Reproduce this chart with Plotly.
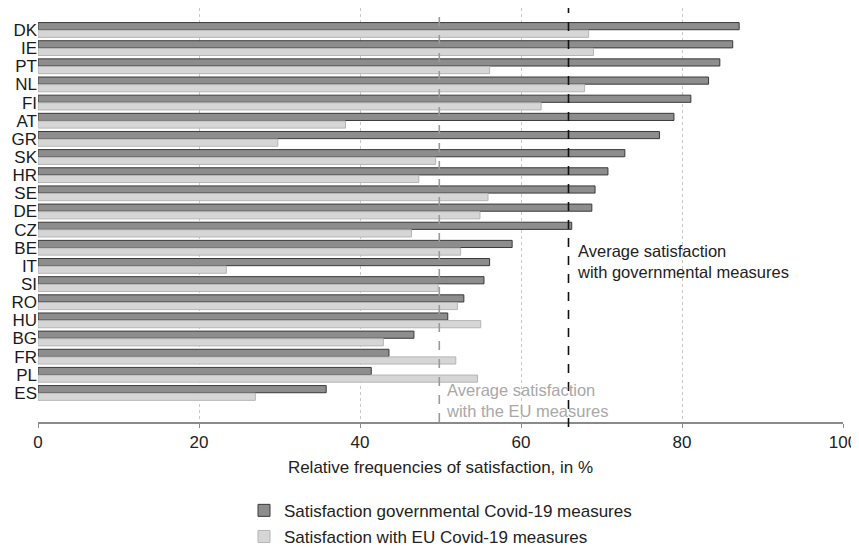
import plotly.graph_objects as go

countries = ["DK", "IE", "PT", "NL", "FI", "AT", "GR", "SK", "HR", "SE", "DE",
             "CZ", "BE", "IT", "SI", "RO", "HU", "BG", "FR", "PL", "ES"]
gov = [87.1, 86.3, 84.7, 83.3, 81.1, 79.0, 77.2, 72.9, 70.8, 69.2, 68.8,
       66.3, 58.9, 56.1, 55.4, 52.9, 50.9, 46.7, 43.6, 41.4, 35.8]
eu = [68.4, 69.0, 56.1, 67.9, 62.5, 38.2, 29.8, 49.4, 47.3, 55.9, 54.9,
      46.4, 52.5, 23.4, 49.7, 52.1, 55.0, 42.9, 51.9, 54.6, 27.0]
avg_gov = 65.9
avg_eu = 49.85
x_ticks = [0, 20, 40, 60, 80, 100]

idx = list(range(len(countries)))
FONT = "Liberation Sans, Arial"

fig = go.Figure()
fig.add_trace(go.Bar(
    y=idx, x=gov, orientation="h",
    name="Satisfaction governmental Covid-19 measures", legendgroup="g1",
    marker=dict(color="#8d8d8d", line=dict(color="#3a3a3a", width=1)),
))
fig.add_trace(go.Bar(
    y=idx, x=eu, orientation="h",
    name="Satisfaction with EU Covid-19 measures", legendgroup="g2",
    marker=dict(color="#d6d6d6", line=dict(color="#b5b5b5", width=1)),
))

# average lines
fig.add_shape(type="line", xref="x", yref="paper", x0=avg_eu, x1=avg_eu, y0=0, y1=1,
              line=dict(color="#9a9a9a", width=1.6, dash="dash"), layer="above")
fig.add_shape(type="line", xref="x", yref="paper", x0=avg_gov, x1=avg_gov, y0=-0.012, y1=1,
              line=dict(color="#111111", width=1.6, dash="dash"), layer="above")

fig.add_annotation(x=avg_gov + 0.75, y=12.75, xref="x", yref="y",
                   text="Average satisfaction<br>with governmental measures",
                   showarrow=False, xanchor="left", yanchor="middle", align="left",
                   font=dict(family=FONT, size=16.5, color="#222222"))
fig.add_annotation(x=avg_eu + 0.55, y=20.44, xref="x", yref="y",
                   text="Average satisfaction<br>with the EU measures",
                   showarrow=False, xanchor="left", yanchor="middle", align="left",
                   font=dict(family=FONT, size=16.5, color="#a8a8a8"))

fig.update_layout(
    width=851, height=540,
    margin=dict(l=29.5, r=16, t=0, b=126, autoexpand=False),
    plot_bgcolor="white", paper_bgcolor="white",
    barmode="group", bargap=0.16, bargroupgap=0.06,
    showlegend=True,
    legend=dict(orientation="v", x=0.5, xanchor="center", y=-0.171, yanchor="top",
                font=dict(family=FONT, size=17, color="#222222"),
                traceorder="grouped", tracegroupgap=1, itemwidth=30),
    xaxis=dict(range=[0, 100], tickvals=x_ticks, ticktext=[str(v) for v in x_ticks],
               showgrid=True, gridcolor="#c8c8c8", griddash="dot", gridwidth=1,
               zeroline=False, showline=True, linecolor="#8a8a8a", linewidth=1.5,
               ticks="outside", ticklen=4, tickcolor="#8a8a8a",
               tickfont=dict(family=FONT, size=17, color="#222222"),
               title=dict(text="Relative frequencies of satisfaction, in %", standoff=10,
                          font=dict(family=FONT, size=17, color="#222222"))),
    yaxis=dict(range=[21.6, -1.21], tickvals=idx, ticktext=countries,
               showgrid=False, zeroline=False, showline=False, ticks="",
               tickfont=dict(family=FONT, size=17, color="#1a1a1a")),
)

fig.write_html("out.html")
